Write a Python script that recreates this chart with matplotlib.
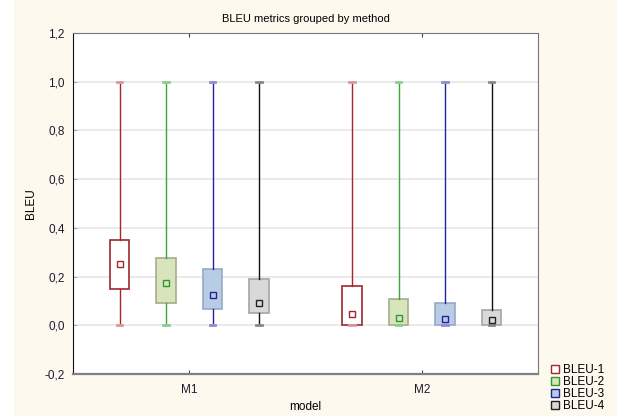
import matplotlib
matplotlib.use("Agg")
import matplotlib.pyplot as plt
from matplotlib.patches import Rectangle
from matplotlib.lines import Line2D
from matplotlib.ticker import FuncFormatter

plt.rcParams['font.family'] = ['Liberation Sans', 'DejaVu Sans']

models = ["M1", "M2"]
metrics = ["BLEU-1", "BLEU-2", "BLEU-3", "BLEU-4"]
# per metric, per model
whislo = [[0.0, 0.0], [0.0, 0.0], [0.0, 0.0], [0.0, 0.0]]
whishi = [[1.0, 1.0], [1.0, 1.0], [1.0, 1.0], [1.0, 1.0]]
q1 = [[0.148, 0.0], [0.09, 0.0], [0.066, 0.0], [0.05, 0.0]]
q3 = [[0.349, 0.16], [0.275, 0.107], [0.23, 0.09], [0.19, 0.062]]
means = [[0.25, 0.045], [0.172, 0.03], [0.123, 0.025], [0.09, 0.02]]

face = ["#ffffff", "#d8e4bc", "#b8cce4", "#d9d9d9"]
edge = ["#a0282d", "#a6ad8c", "#95a9c9", "#a6a6a6"]
whisk = ["#a0282d", "#3aa63a", "#22229a", "#111111"]
caps = ["#d99a9c", "#8fcc8f", "#8f8fcc", "#888888"]
mark = ["#a0282d", "#2e9a2e", "#22229a", "#222222"]

fig = plt.figure(figsize=(6.17, 4.16), dpi=100, facecolor="#fef9ee")
fig.patches.append(Rectangle((0, 0), 14 / 617, 1, transform=fig.transFigure,
                             facecolor="white", edgecolor="none", zorder=-1))
ax = fig.add_axes([73 / 617, 1 - 374 / 416, 465 / 617, 341 / 416])
ax.set_facecolor("white")

offsets = [-0.3, -0.1, 0.1, 0.3]
for i in range(4):
    stats = []
    for j in range(2):
        stats.append(dict(med=q1[i][j], q1=q1[i][j], q3=q3[i][j], whislo=whislo[i][j],
                          whishi=whishi[i][j], mean=means[i][j], fliers=[]))
    pos = [j + 0.5 + offsets[i] for j in range(2)]
    ax.bxp(stats, positions=pos, widths=0.085, patch_artist=True, showmeans=True,
           boxprops=dict(facecolor=face[i], edgecolor=edge[i], linewidth=1.2),
           whiskerprops=dict(color=whisk[i], linewidth=1.0),
           capprops=dict(color=caps[i], linewidth=2.0),
           medianprops=dict(linewidth=0),
           meanprops=dict(marker="s", markersize=4, markerfacecolor="none",
                          markeredgecolor=mark[i], markeredgewidth=1.0),
           capwidths=0.025, manage_ticks=False, zorder=3)

ax.set_xlim(0, 2)
ax.set_ylim(-0.2, 1.2)
ax.set_xticks([0.5, 1.5])
ax.set_xticklabels(models)
ax.set_yticks([-0.2, 0.0, 0.2, 0.4, 0.6, 0.8, 1.0, 1.2])
ax.yaxis.set_major_formatter(FuncFormatter(lambda v, p: f"{v:.1f}".replace(".", ",")))
ax.tick_params(axis="x", direction="in", top=True, length=3, labelsize=8.5, pad=7,
               labelcolor="#1c1c30", color="#444444")
ax.tick_params(axis="y", direction="in", length=3, labelsize=8.5, pad=6,
               labelcolor="#1c1c30", color="#aaaaaa")
ax.grid(axis="y", color="#e6e6e6", linewidth=1.2, zorder=0)
ax.set_axisbelow(True)
ax.spines["top"].set_color("#777777")
ax.spines["right"].set_color("#777777")
ax.spines["left"].set_color("#111111")
ax.spines["bottom"].set_color("#808080")
ax.spines["bottom"].set_linewidth(1.6)

ax.set_title("BLEU metrics grouped by method", fontsize=8, pad=8)
ax.set_ylabel("BLEU", fontsize=8.5, labelpad=5)
ax.set_xlabel("model", fontsize=8.5, labelpad=4)

handles = [Line2D([], [], linestyle="none", marker="s", markersize=6,
                  markerfacecolor=face[i], markeredgecolor=mark[i], markeredgewidth=1.0)
           for i in range(4)]
fig.legend(handles, metrics, loc="lower left", bbox_to_anchor=(542 / 617, -4 / 416),
           frameon=False, fontsize=8.5, handlelength=0.8, handletextpad=0.3,
           labelspacing=0.0, borderpad=0.2)

fig.savefig("out.png", dpi=100, facecolor=fig.get_facecolor())
